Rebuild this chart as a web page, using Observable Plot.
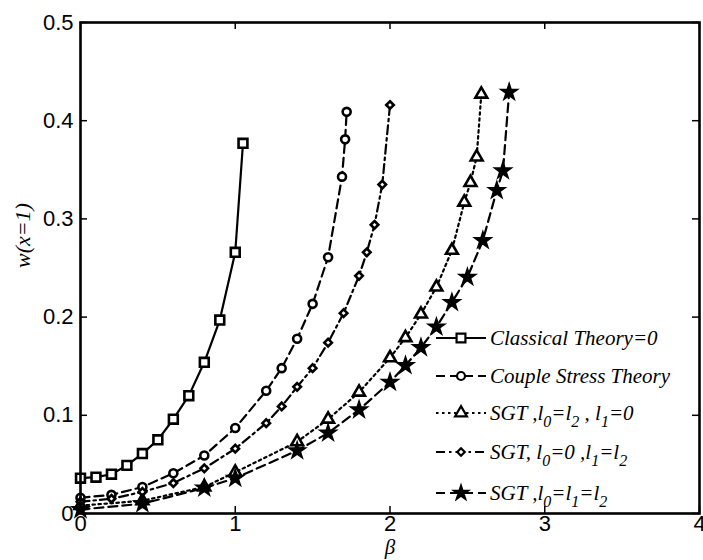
<!DOCTYPE html>
<html><head><meta charset="utf-8">
<script src="https://cdn.jsdelivr.net/npm/d3@7"></script>
<script src="https://cdn.jsdelivr.net/npm/@observablehq/plot@0.6"></script>
<style>body{margin:0;background:#fff}#chart{width:703px;height:560px}</style>
</head><body><div id="chart"></div>
<script>
// ---- data ----
const classicalBeta = [0, 0.1, 0.2, 0.3, 0.4, 0.5, 0.6, 0.7, 0.8, 0.9, 1.0, 1.05];
const classicalW    = [0.036, 0.037, 0.040, 0.049, 0.061, 0.075, 0.096, 0.120, 0.154, 0.197, 0.266, 0.377];

const coupleBeta = [0, 0.2, 0.4, 0.6, 0.8, 1.0, 1.2, 1.3, 1.4, 1.5, 1.6, 1.69, 1.71, 1.72];
const coupleW    = [0.016, 0.019, 0.027, 0.041, 0.059, 0.087, 0.125, 0.148, 0.178, 0.2135, 0.261, 0.343, 0.381, 0.409];

const sgtABeta = [0, 0.4, 0.8, 1.0, 1.4, 1.6, 1.8, 2.0, 2.1, 2.2, 2.3, 2.4, 2.48, 2.52, 2.56, 2.59];
const sgtAW    = [0.008, 0.013, 0.027, 0.042, 0.073, 0.096, 0.1235, 0.1585, 0.179, 0.203, 0.2305, 0.268, 0.317, 0.337, 0.363, 0.427];

const sgtBBeta = [0, 0.2, 0.4, 0.6, 0.8, 1.0, 1.2, 1.3, 1.4, 1.5, 1.6, 1.7, 1.8, 1.85, 1.9, 1.95, 2.0];
const sgtBW    = [0.012, 0.015, 0.022, 0.031, 0.046, 0.066, 0.092, 0.109, 0.129, 0.148, 0.174, 0.204, 0.242, 0.266, 0.294, 0.335, 0.416];

const sgtCBeta = [0, 0.4, 0.8, 1.0, 1.4, 1.6, 1.8, 2.0, 2.1, 2.2, 2.3, 2.4, 2.5, 2.6, 2.69, 2.73, 2.77];
const sgtCW    = [0.004, 0.010, 0.026, 0.036, 0.064, 0.082, 0.1056, 0.1337, 0.1507, 0.169, 0.19, 0.215, 0.2406, 0.278, 0.329, 0.349, 0.429];

const legendLabels = ["Classical Theory=0", "Couple Stress Theory", "SGT ,l_0=l_2 , l_1=0", "SGT, l_0=0 ,l_1=l_2", "SGT ,l_0=l_1=l_2"];
const xTicks = [0, 1, 2, 3, 4];
const yTicks = [0, 0.1, 0.2, 0.3, 0.4, 0.5];
const xLabel = "β";
const yLabel = "w(x=1)";

// ---- build ----
const zip = (b, w) => b.map((v, i) => ({beta: v, w: w[i]}));
const series = [
  {data: zip(classicalBeta, classicalW), symbol: "square",   d3sym: d3.symbolSquare,   r: 5.0, fill: "white", dash: null},
  {data: zip(coupleBeta, coupleW),       symbol: "circle",   d3sym: d3.symbolCircle,   r: 4.0, fill: "white", dash: "9,5"},
  {data: zip(sgtABeta, sgtAW),           symbol: "triangle", d3sym: d3.symbolTriangle, r: 4.4, fill: "white", dash: "2.5,3.5"},
  {data: zip(sgtBBeta, sgtBW),           symbol: "diamond2", d3sym: d3.symbolDiamond2, r: 3.4, fill: "white", dash: "9,4,2.5,4"},
  {data: zip(sgtCBeta, sgtCW),           symbol: "star",     d3sym: d3.symbolStar,     r: 4.2, fill: "black", dash: "9,5"}
];

const W = 703, H = 560, mL = 80, mR = 4, mT = 22, mB = 47;
const fw = W - mL - mR, fh = H - mT - mB;
const tickLen = 7;

const marks = [];
series.forEach(s => marks.push(Plot.line(s.data, {x: "beta", y: "w", stroke: "black", strokeWidth: 2.2, strokeDasharray: s.dash})));
series.forEach(s => marks.push(Plot.dot(s.data, {x: "beta", y: "w", symbol: s.symbol, r: s.r, fill: s.fill, stroke: "black", strokeWidth: 2.6})));

marks.push(
  Plot.tickX(xTicks, {x: d => d, insetTop: fh - tickLen, stroke: "black", strokeWidth: 1.5}),
  Plot.tickX(xTicks, {x: d => d, insetBottom: fh - tickLen, stroke: "black", strokeWidth: 1.5}),
  Plot.tickY(yTicks, {y: d => d, insetRight: fw - tickLen, stroke: "black", strokeWidth: 1.5}),
  Plot.tickY(yTicks, {y: d => d, insetLeft: fw - tickLen, stroke: "black", strokeWidth: 1.5}),
  Plot.frame({stroke: "black", strokeWidth: 2.6}),
  Plot.axisX(xTicks, {tickSize: 0, tickPadding: 2, tickFormat: d => String(d), label: null, fontSize: 22, fontFamily: "Liberation Sans, Arial, sans-serif", fill: "black"}),
  Plot.axisY(yTicks, {tickSize: 0, tickPadding: 7, tickFormat: d => d === 0 ? "0" : d.toFixed(1), label: null, fontSize: 22, fontFamily: "Liberation Sans, Arial, sans-serif", fill: "black"}),
  Plot.text([xLabel], {text: d => d, frameAnchor: "bottom", dy: 40, fontSize: 21, fontStyle: "italic", fontFamily: "Liberation Serif, serif", fill: "black"}),
  Plot.text([yLabel], {text: d => d, frameAnchor: "left", dx: -58, rotate: -90, fontSize: 22, fontStyle: "italic", fontFamily: "Liberation Serif, serif", fill: "black"})
);

const chart = Plot.plot({
  width: W, height: H,
  marginLeft: mL, marginRight: mR, marginTop: mT, marginBottom: mB,
  x: {domain: [0, 4]},
  y: {domain: [0, 0.5]},
  style: {background: "white", color: "black", overflow: "visible"},
  marks
});
document.getElementById("chart").appendChild(chart);

// ---- legend (inside plot, no box) ----
const svg = d3.select(chart);
const rowsY = [338, 376, 413, 452, 493];
const lx0 = 436, lx1 = 486, lxm = 461, tx = 490;
const g = svg.append("g").attr("class", "legend");
series.forEach((s, i) => {
  const y = rowsY[i];
  g.append("line").attr("x1", lx0).attr("x2", lx1).attr("y1", y).attr("y2", y)
    .attr("stroke", "black").attr("stroke-width", 2.2).attr("stroke-dasharray", s.dash);
  g.append("path").attr("transform", `translate(${lxm},${y})`)
    .attr("d", d3.symbol(s.d3sym, s.r * s.r * Math.PI)())
    .attr("fill", s.fill).attr("stroke", "black").attr("stroke-width", 2.2);
  const t = g.append("text").attr("x", tx).attr("y", y + 7)
    .attr("text-anchor", "start")
    .attr("font-family", "Liberation Serif, serif").attr("font-style", "italic")
    .attr("font-size", 21).attr("fill", "black");
  const parts = legendLabels[i].split(/_(\d)/);
  let off = 0;
  parts.forEach((p, k) => {
    if (p === "") return;
    const isSub = k % 2 === 1;
    const ts = t.append("tspan").text(p);
    const target = isSub ? 7 : 0;
    if (target !== off) { ts.attr("dy", target - off); off = target; }
    if (isSub) ts.attr("font-size", 16);
  });
});
</script>
</body></html>
